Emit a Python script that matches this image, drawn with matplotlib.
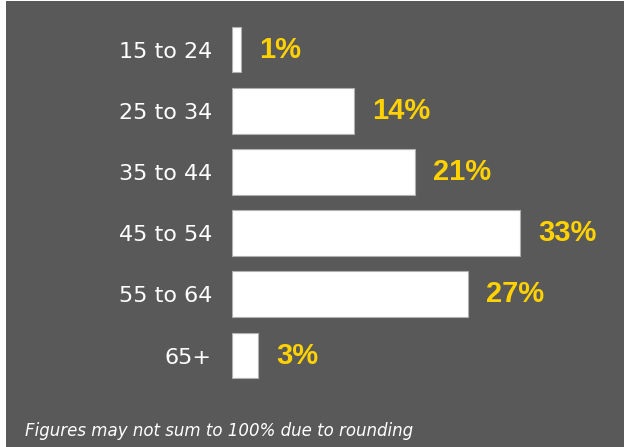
import matplotlib
matplotlib.use("Agg")
import matplotlib.pyplot as plt
from matplotlib.patches import Rectangle

categories = ["15 to 24", "25 to 34", "35 to 44", "45 to 54", "55 to 64", "65+"]
values = [1, 14, 21, 33, 27, 3]
value_labels = ["1%", "14%", "21%", "33%", "27%", "3%"]
footnote = "Figures may not sum to 100% due to rounding"

W, H = 624, 447
fig = plt.figure(figsize=(W / 100, H / 100), dpi=100)
fig.patch.set_facecolor("white")
bg = "#595959"
fig.patches.append(Rectangle((6 / W, 0), 1 - 6 / W, 1 - 1 / H,
                             transform=fig.transFigure, facecolor=bg,
                             edgecolor="none", zorder=-10))

px_per_unit = 8.73
left_px, right_px = 232, 624
top_px, bot_px = 18.9, 386.1
ax = fig.add_axes([left_px / W, 1 - bot_px / H, (right_px - left_px) / W, (bot_px - top_px) / H])
ax.set_facecolor("none")
ax.set_xlim(0, (right_px - left_px) / px_per_unit)
ax.set_ylim(len(categories) - 0.5, -0.5)

ys = list(range(len(categories)))
ax.barh(ys, values, height=0.75, color="white", edgecolor="#b0b0b0", linewidth=0.8)
for y, v, lab in zip(ys, values, value_labels):
    ax.text(v + 18 / px_per_unit, y, lab, va="center", ha="left", color="#FFD200",
            fontsize=21, fontweight="bold", family="Liberation Sans")

ax.set_yticks(ys)
ax.set_yticklabels(categories, color="white", fontsize=16, family="DejaVu Sans")
ax.tick_params(axis="y", length=0, pad=14.4)
ax.set_xticks([])
for s in ax.spines.values():
    s.set_visible(False)

fig.text(25 / W, 1 - 431 / H, footnote, color="white", fontsize=12, style="italic",
         va="center", ha="left", family="DejaVu Sans")

fig.savefig("out.png", dpi=100, facecolor=fig.get_facecolor())
